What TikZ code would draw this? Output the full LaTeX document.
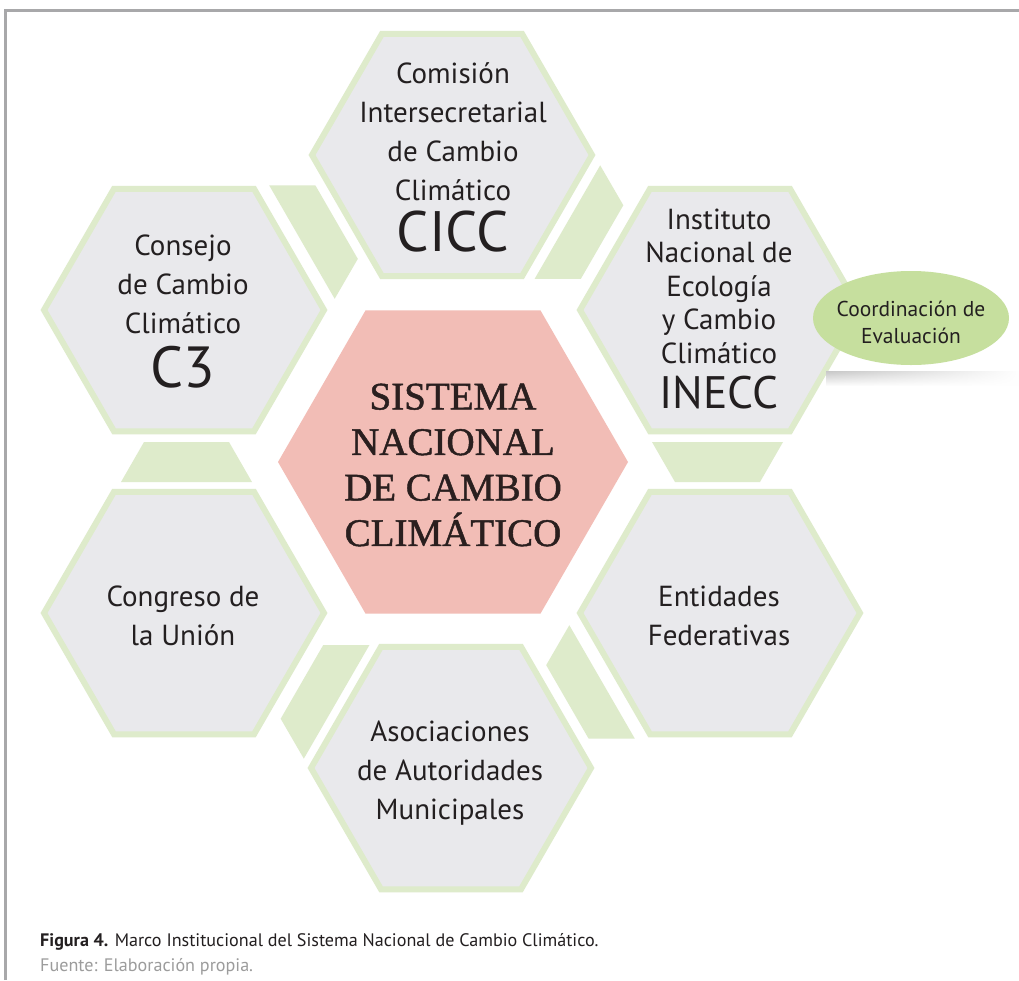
\documentclass[tikz,border=0pt]{standalone}
\usepackage{fontspec}
\setmainfont{PT Sans}
\newfontfamily\capsserif[FakeBold=1.2]{Liberation Serif}
\usetikzlibrary{shapes.geometric,fadings}
\definecolor{hexgray}{HTML}{E9E9EC}
\definecolor{hexgreen}{HTML}{DEEBCB}
\definecolor{trapgreen}{HTML}{DEEBCB}
\definecolor{centerpink}{HTML}{F2BDB6}
\definecolor{evalgreen}{HTML}{C6DF9E}
\definecolor{framegray}{HTML}{A8A8AA}
\definecolor{txtdark}{HTML}{231F20}
\definecolor{centertxt}{HTML}{2A1F1F}
\definecolor{captiongray}{HTML}{9C9C9C}
\begin{document}
\begin{tikzpicture}[x=1pt,y=-1pt,
  hexbox/.style={regular polygon, regular polygon sides=6, minimum size=280pt, inner sep=0pt, fill=hexgray, draw=hexgreen, line width=6pt},
  centerhex/.style={regular polygon, regular polygon sides=6, minimum size=350pt, inner sep=0pt, fill=centerpink},
  body/.style={align=center, inner sep=0pt, text=txtdark, font=\fontsize{29}{39}\selectfont},
  acro/.style={inner sep=0pt, text=txtdark, font=\fontsize{57}{57}\selectfont},
  trap/.style={fill=trapgreen},
  captxt/.style={anchor=base west, inner sep=0pt, font=\fontsize{18.1}{20}\selectfont}
]
\useasboundingbox (0,0) rectangle (1019,980);
\fill[white] (0,0) rectangle (1019,980);
\draw[framegray, line width=3pt] (5,980) -- (5,10) -- (1019,10);

% connecting trapezoids (pinwheel)
\foreach \k in {0,...,5}
  \fill[trap, rotate around={-60*\k:(452,462)}] (144,442) -- (229,442) -- (252,482) -- (121,482) -- cycle;

% hexagons
\node[hexbox] (cicc) at (452,155) {};
\node[hexbox] (c3) at (184,310) {};
\node[hexbox] (inecc) at (720,310) {};
\node[hexbox] (congreso) at (184,613) {};
\node[hexbox] (entidades) at (720,613) {};
\node[hexbox] (asoc) at (451,768) {};
\node[centerhex] (sinacc) at (453,462) {};

% texts
\node[body] (cicc-t) at (453,132) {Comisión\\Intersecretarial\\de Cambio\\Climático};
\node[acro] (cicc-a) at (453,232) {CICC};
\node[body] (c3-t) at (183,284) {Consejo\\de Cambio\\Climático};
\node[acro, font=\fontsize{58}{58}\selectfont] (c3-a) at (183,367) {C3};
\node[body, font=\fontsize{29}{33.5}\selectfont] (inecc-t) at (719,286) {Instituto\\Nacional de\\Ecología\\y Cambio\\Climático};
\node[acro, font=\fontsize{45.5}{45.5}\selectfont] (inecc-a) at (719,393) {INECC};
\node[body] (congreso-t) at (183,616) {Congreso de\\la Unión};
\node[body] (entidades-t) at (719,616) {Entidades\\Federativas};
\node[body] (asoc-t) at (450,773) {Asociaciones\\de Autoridades\\Municipales};
\node[align=center, inner sep=0pt, text=centertxt, font=\capsserif\fontsize{39}{45.5}\selectfont] (sinacc-t) at (453,465) {SISTEMA\\NACIONAL\\DE CAMBIO\\CLIMÁTICO};

% evaluation ellipse
\shade[path fading=east, top color=black!22, bottom color=white] (826,371) rectangle (1019,386);
\node[ellipse, fill=evalgreen, minimum width=196pt, minimum height=94pt, inner sep=0pt] (eval) at (911,318) {};
\node[align=center, inner sep=0pt, text=txtdark, font=\fontsize{21.5}{27}\selectfont] (eval-t) at (911,322) {Coordinación de\\Evaluación};

% caption
\node[captxt, text=txtdark] (cap) at (40,946) {\textbf{Figura 4.} Marco Institucional del Sistema Nacional de Cambio Climático.};
\node[captxt, text=captiongray] (src) at (40,971) {Fuente: Elaboración propia.};
\end{tikzpicture}
\end{document}
